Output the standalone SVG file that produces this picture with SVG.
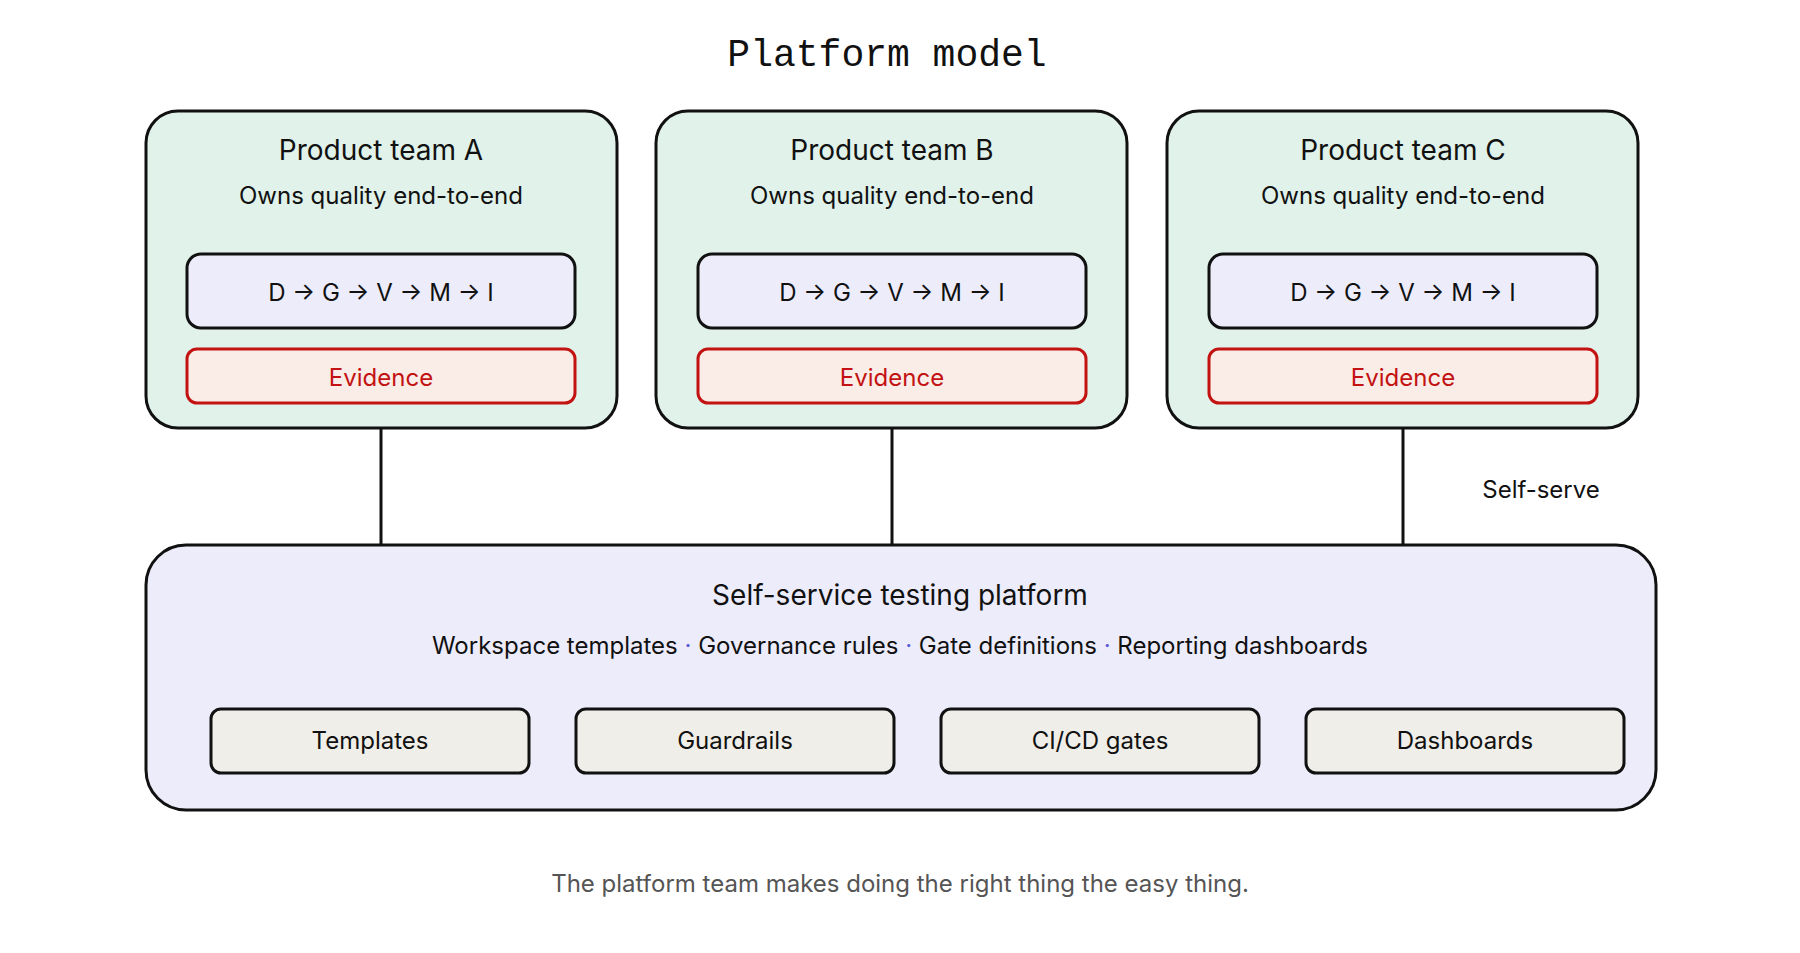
<svg xmlns="http://www.w3.org/2000/svg" width="1800" height="953" viewBox="0 0 1800 953">
<style>
text{font-family:Inter,"Noto Sans",sans-serif;fill:#111;text-anchor:middle}
.title{font-family:"Liberation Mono","DejaVu Sans Mono",monospace;font-size:38px}
.team{fill:#e0f2ea;stroke:#111;stroke-width:3}
.h{font-size:28px}
.s{font-size:24px}
.pipe{fill:#ececfb;stroke:#111;stroke-width:3}
.ev{fill:#faece6;stroke:#c31212;stroke-width:3}
.evt{fill:#c31212;font-size:24px}
.plat{fill:#ececfb;stroke:#111;stroke-width:3}
.item{fill:#f0eee8;stroke:#111;stroke-width:3}
.dot{fill:#5b5bd6}
.conn{stroke:#111;stroke-width:3;fill:none}
.foot{fill:#555;font-size:24px}
</style>
<rect width="1800" height="953" fill="#fff"/>
<text class="title" x="887" y="66">Platform model</text>
<g id="connectors">
<line class="conn" x1="381" y1="428" x2="381" y2="545"/>
<line class="conn" x1="892" y1="428" x2="892" y2="545"/>
<line class="conn" x1="1403" y1="428" x2="1403" y2="545"/>
<text class="s" x="1541" y="498">Self-serve</text>
</g>
<g id="team-a">
<rect class="team" x="146" y="111" width="471" height="317" rx="32"/>
<text class="h" x="381" y="160">Product team A</text>
<text class="s" x="381" y="204">Owns quality end-to-end</text>
<rect class="pipe" x="187" y="254" width="388" height="74" rx="14"/>
<text class="s" x="381" y="301">D → G → V → M → I</text>
<rect class="ev" x="187" y="349" width="388" height="54" rx="10"/>
<text class="evt" x="381" y="386">Evidence</text>
</g>
<g id="team-b">
<rect class="team" x="656" y="111" width="471" height="317" rx="32"/>
<text class="h" x="892" y="160">Product team B</text>
<text class="s" x="892" y="204">Owns quality end-to-end</text>
<rect class="pipe" x="698" y="254" width="388" height="74" rx="14"/>
<text class="s" x="892" y="301">D → G → V → M → I</text>
<rect class="ev" x="698" y="349" width="388" height="54" rx="10"/>
<text class="evt" x="892" y="386">Evidence</text>
</g>
<g id="team-c">
<rect class="team" x="1167" y="111" width="471" height="317" rx="32"/>
<text class="h" x="1403" y="160">Product team C</text>
<text class="s" x="1403" y="204">Owns quality end-to-end</text>
<rect class="pipe" x="1209" y="254" width="388" height="74" rx="14"/>
<text class="s" x="1403" y="301">D → G → V → M → I</text>
<rect class="ev" x="1209" y="349" width="388" height="54" rx="10"/>
<text class="evt" x="1403" y="386">Evidence</text>
</g>
<g id="platform">
<rect class="plat" x="146" y="545" width="1510" height="265" rx="40"/>
<text class="h" x="900" y="605">Self-service testing platform</text>
<text class="s" x="900" y="654">Workspace templates <tspan class="dot">·</tspan> Governance rules <tspan class="dot">·</tspan> Gate definitions <tspan class="dot">·</tspan> Reporting dashboards</text>
</g>
<g id="templates">
<rect class="item" x="211" y="709" width="318" height="64" rx="10"/>
<text class="s" x="370" y="749">Templates</text>
</g>
<g id="guardrails">
<rect class="item" x="576" y="709" width="318" height="64" rx="10"/>
<text class="s" x="735" y="749">Guardrails</text>
</g>
<g id="cicd">
<rect class="item" x="941" y="709" width="318" height="64" rx="10"/>
<text class="s" x="1100" y="749">CI/CD gates</text>
</g>
<g id="dashboards">
<rect class="item" x="1306" y="709" width="318" height="64" rx="10"/>
<text class="s" x="1465" y="749">Dashboards</text>
</g>
<text class="foot" x="900" y="892">The platform team makes doing the right thing the easy thing.</text>
</svg>
